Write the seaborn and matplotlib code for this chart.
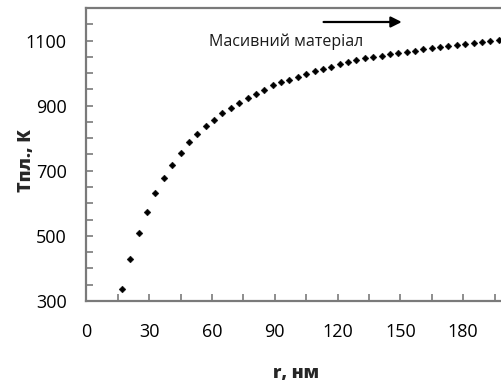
import matplotlib
matplotlib.use("Agg")
import matplotlib.pyplot as plt
import seaborn as sns
import pandas as pd

# radius (nm) and melting temperature (K)
r_nm = [17, 21, 25, 29, 33, 37, 41, 45, 49, 53, 57, 61, 65, 69, 73, 77,
        81, 85, 89, 93, 97, 101, 105, 109, 113, 117, 121, 125, 129, 133,
        137, 141, 145, 149, 153, 157, 161, 165, 169, 173, 177, 181, 185,
        189, 193, 197]
t_melt = [338, 429, 509, 573, 633, 679, 719, 755, 787, 813, 836, 856, 878,
          894, 908, 924, 936, 949, 962, 973, 980, 988, 998, 1007, 1013, 1020,
          1027, 1034, 1040, 1045, 1049, 1054, 1058, 1062, 1065, 1069, 1073,
          1076, 1079, 1083, 1086, 1089, 1092, 1095, 1098, 1101]

x_ticks = [0, 30, 60, 90, 120, 150, 180]
y_ticks = [300, 500, 700, 900, 1100]
arrow_start = (112, 1157)
arrow_end = (152, 1157)
note_pos = (95.5, 1096)
note_text = "Масивний матеріал"

df = pd.DataFrame({"r": r_nm, "T": t_melt})

sns.set_theme(style="white")
plt.rcParams["font.family"] = ["Open Sans", "DejaVu Sans"]

fig = plt.figure(figsize=(5.02, 3.81), dpi=100)
ax = fig.add_axes([0.172, 0.21, 0.834, 0.769])

sns.scatterplot(data=df, x="r", y="T", ax=ax, color="black", marker="D",
                s=12, edgecolor="black", linewidth=0.3, legend=False)

ax.set_xlim(0, 200)
ax.set_ylim(300, 1200)
ax.set_xticks(x_ticks)
ax.set_xticks(range(0, 201, 15), minor=True)
ax.set_yticks(y_ticks)
ax.set_yticks(range(300, 1201, 50), minor=True)
ax.tick_params(axis="both", which="both", direction="in", length=5,
               width=1.2, color="#7a7a7a", labelsize=13, labelcolor="black",
               bottom=True, left=True)
ax.tick_params(axis="x", pad=16)
ax.tick_params(axis="y", pad=14)

for sp in ax.spines.values():
    sp.set_color("#7a7a7a")
    sp.set_linewidth(1.6)

ax.set_xlabel("r, нм", fontsize=13, fontweight=800, labelpad=17)
ax.set_ylabel("Тпл., К", fontsize=13, fontweight=800)
ax.yaxis.set_label_coords(-0.122, 0.48)

ax.annotate("", xy=arrow_end, xytext=arrow_start,
            arrowprops=dict(arrowstyle="-|>", color="black", lw=1.6,
                            mutation_scale=16))
ax.text(*note_pos, note_text, ha="center", va="center", fontsize=11.5,
        color="#1a1a1a")

fig.savefig("out.png", dpi=100)
